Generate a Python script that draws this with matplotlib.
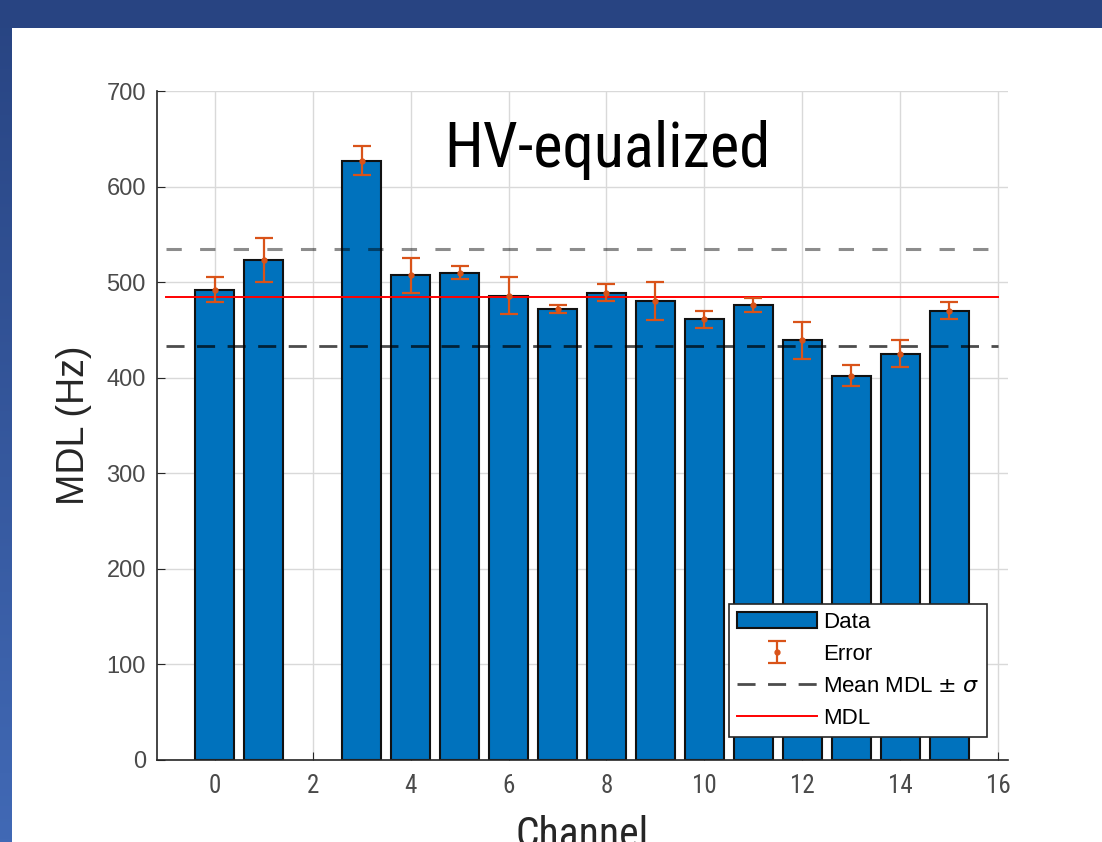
import numpy as np
import matplotlib
matplotlib.use("Agg")
import matplotlib.pyplot as plt
from matplotlib.patches import Rectangle
from matplotlib.colors import LinearSegmentedColormap

# data
channels = [0, 1, 3, 4, 5, 6, 7, 8, 9, 10, 11, 12, 13, 14, 15]
mdl = [492, 523, 627, 507, 510, 486, 472, 489, 480, 461, 476, 439, 402, 425, 470]
err = [13, 23, 15, 18, 7, 19, 4, 9, 20, 9, 7, 19, 11, 14, 9]
mean_mdl = 484
sigma = 51
xticks = [0, 2, 4, 6, 8, 10, 12, 14, 16]
yticks = [0, 100, 200, 300, 400, 500, 600, 700]

W, H = 1102, 842
fig = plt.figure(figsize=(W / 100, H / 100), dpi=100)

# slide background: blue gradient with a white panel
bg = fig.add_axes([0, 0, 1, 1], zorder=-10)
cmap = LinearSegmentedColormap.from_list("slide", ["#4169b5", "#284482"])
bg.imshow(np.linspace(0, 1, 256).reshape(-1, 1), aspect="auto", cmap=cmap,
          extent=[0, 1, 0, 1], origin="lower")
bg.axis("off")
fig.patches.append(Rectangle((0, 1 - 28 / H), 1, 28 / H, transform=fig.transFigure,
                             facecolor="#284482", edgecolor="none", zorder=-6))
fig.patches.append(Rectangle((12 / W, 0), 1, 1 - 28 / H, transform=fig.transFigure,
                             facecolor="white", edgecolor="none", zorder=-5))

ax = fig.add_axes([157 / W, 1 - 760 / H, (1008 - 157) / W, (760 - 91) / H])
ax.set_facecolor("white")

narrow = ["Roboto Condensed", "Liberation Sans Narrow", "DejaVu Sans"]

bars = ax.bar(channels, mdl, width=0.8, color="#0072BD", edgecolor="#111111",
              linewidth=1.5, label="Data", zorder=2)
eb = ax.errorbar(channels, mdl, yerr=err, fmt=".", color="#D95319", ecolor="#D95319",
                 elinewidth=1.6, capsize=6.5, capthick=1.6, markersize=7,
                 label="Error", zorder=4)
ax.plot([-1, 16], [mean_mdl + sigma] * 2, color="black", alpha=0.45, lw=2.2,
        linestyle=(0, (5, 6)), zorder=3)
lo, = ax.plot([-1, 16], [mean_mdl - sigma] * 2, color="black", alpha=0.7, lw=2,
              linestyle=(0, (6.5, 4.5)), label=r"Mean MDL $\pm$ $\sigma$", zorder=3)
red, = ax.plot([-1, 16], [mean_mdl] * 2, color="red", lw=1.4, label="MDL", zorder=3)

ax.set_xlim(-1.18, 16.2)
ax.set_ylim(0, 700)
ax.set_xticks(xticks)
ax.set_yticks(yticks)
ax.grid(True, color="#d9d9d9", lw=1)
ax.set_axisbelow(True)
for s in ["top", "right"]:
    ax.spines[s].set_visible(False)
for s in ["left", "bottom"]:
    ax.spines[s].set_color("#262626")
    ax.spines[s].set_linewidth(1.2)
ax.tick_params(direction="in", length=6, color="#262626", labelcolor="#4a4a4a")
for t in ax.get_yticklabels():
    t.set_fontfamily("Liberation Sans")
    t.set_fontsize(17)
for t in ax.get_xticklabels():
    t.set_fontfamily(narrow)
    t.set_fontstretch("condensed")
    t.set_fontsize(18)
ax.tick_params(axis="x", pad=10)
ax.tick_params(axis="y", pad=8)

ax.set_ylabel("MDL (Hz)", fontsize=27, family="Liberation Sans", color="#262626")
ax.yaxis.set_label_coords((92 - 157) / 851, 0.5)
ax.set_xlabel("Channel", fontsize=30, family=narrow, fontstretch="condensed",
              color="#262626")
ax.xaxis.set_label_coords((582 - 157) / 851, (760 - 815) / 669)

fig.text(607 / W, 1 - 167 / H, "HV-equalized", ha="center", va="baseline",
         fontsize=45, family=narrow, fontstretch="condensed", color="black")

leg = ax.legend([bars, eb, lo, red], ["Data", "Error", r"Mean MDL $\pm$ $\sigma$", "MDL"],
                loc="lower right", bbox_to_anchor=((987 - 157) / 851, (760 - 737) / 669),
                prop={"family": "Liberation Sans", "size": 16}, fancybox=False,
                framealpha=1, edgecolor="#262626", handlelength=3.6,
                labelspacing=0.5, borderpad=0.35, handletextpad=0.25, borderaxespad=0)
leg.get_frame().set_linewidth(1.2)

fig.savefig("out.png", dpi=100)
